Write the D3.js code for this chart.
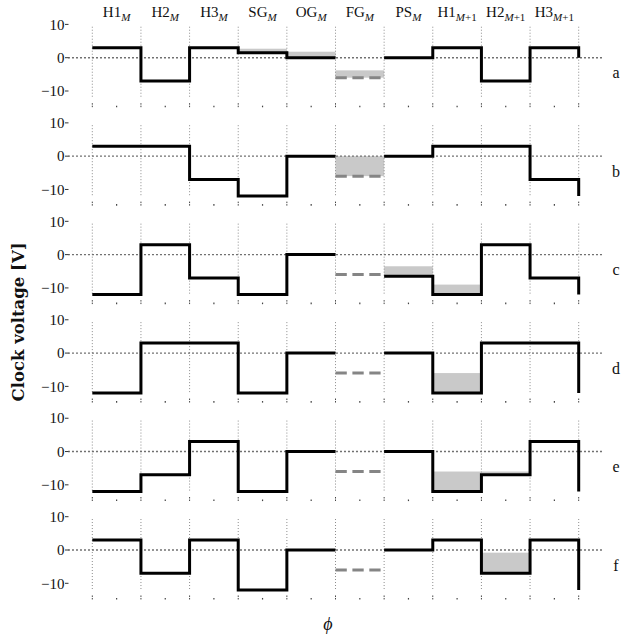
<!DOCTYPE html>
<html>
<head>
<meta charset="utf-8">
<script src="https://cdn.jsdelivr.net/npm/d3@7"></script>
<style>
  body { margin: 0; background: #fff; }
  text { font-family: "Liberation Serif", "DejaVu Serif", serif; fill: #111; }
</style>
</head>
<body>
<svg id="chart" width="624" height="637"></svg>
<script>
// Clock phases within one pixel transfer (gate names and subscripts)
const phaseNames = ["H1", "H2", "H3", "SG", "OG", "FG", "PS", "H1", "H2", "H3"];
const phaseSubs  = ["M", "M", "M", "M", "M", "M", "M", "M+1", "M+1", "M+1"];

// Panel labels
const panelLabels = ["a", "b", "c", "d", "e", "f"];

// Clock voltage of each phase per panel (null = floating gate, drawn dashed)
const voltsA = [3, -7, 3, 1.5, 0, null, 0, 3, -7, 3];
const voltsB = [3, 3, -7, -12, 0, null, 0, 3, 3, -7];
const voltsC = [-12, 3, -7, -12, 0, null, -6.5, -12, 3, -7];
const voltsD = [-12, 3, 3, -12, 0, null, 0, -12, 3, 3];
const voltsE = [-12, -7, 3, -12, 0, null, 0, -12, -7, 3];
const voltsF = [3, -7, 3, -12, 0, null, 0, 3, -7, 3];

// Level the trace drops to at the right edge of each panel
const endVolts = [0, -12, -12, -12, -12, -12];

// Floating gate reference level
const fgLevel = -6;

// Shaded charge packets: [phase index, lower V, upper V]
const chargeA = [[3, 1.5, 2.7], [4, 0, 1.8], [5, -6, -3.8]];
const chargeB = [[5, -6, 0]];
const chargeC = [[6, -6.5, -3.5], [7, -12, -9]];
const chargeD = [[7, -12, -6]];
const chargeE = [[7, -12, -6], [8, -7, -6]];
const chargeF = [[8, -7, -0.8]];

// Voltage axis ticks
const yTickValues = [10, 0, -10];
const yTickLabels = ["10", "0", "\u221210"];

const voltsAll = [voltsA, voltsB, voltsC, voltsD, voltsE, voltsF];
const chargeAll = [chargeA, chargeB, chargeC, chargeD, chargeE, chargeF];

const svg = d3.select("#chart");

// Shared horizontal scale: phase boundaries 0..10, axis spans -0.5..10.5
const x = d3.scaleLinear().domain([0, 10]).range([92.3, 578.7]);

const firstZero = 57.7, panelStep = 98.46;
const yTop = 9.3, yBottom = -12;

// Phase names along the top
const header = svg.append("g");
phaseNames.forEach((name, i) => {
  const t = header.append("text")
    .attr("x", x(i + 0.5))
    .attr("y", 17)
    .attr("text-anchor", "middle")
    .style("font-size", "15px");
  t.append("tspan").text(name);
  const sub = phaseSubs[i];
  const s = t.append("tspan").attr("dy", 4).style("font-size", "11px");
  s.append("tspan").style("font-style", "italic").text("M");
  if (sub.length > 1) s.append("tspan").text(sub.slice(1));
});

voltsAll.forEach((volts, p) => {
  const zero = firstZero + p * panelStep;
  const y = d3.scaleLinear().domain([0, 10]).range([zero, zero - 33.3]);
  const g = svg.append("g");

  // charge packets
  g.selectAll("rect.charge")
    .data(chargeAll[p])
    .join("rect")
    .attr("class", "charge")
    .attr("x", d => x(d[0]))
    .attr("width", d => x(d[0] + 1) - x(d[0]))
    .attr("y", d => y(d[2]))
    .attr("height", d => y(d[1]) - y(d[2]))
    .attr("fill", "#c9c9c9");

  // vertical phase boundaries
  g.selectAll("line.grid")
    .data(d3.range(0, 11))
    .join("line")
    .attr("class", "grid")
    .attr("x1", d => x(d)).attr("x2", d => x(d))
    .attr("y1", y(yTop)).attr("y2", y(yBottom))
    .attr("stroke", "#8c8c8c")
    .attr("stroke-width", 1)
    .attr("stroke-dasharray", "1,2");

  // zero reference
  g.append("line")
    .attr("x1", x(-0.5)).attr("x2", x(10.5))
    .attr("y1", y(0)).attr("y2", y(0))
    .attr("stroke", "#707070")
    .attr("stroke-width", 1.4)
    .attr("stroke-dasharray", "2,2");

  // y ticks and labels
  yTickValues.forEach((v, k) => {
    g.append("line")
      .attr("x1", 65).attr("x2", 68.5)
      .attr("y1", y(v)).attr("y2", y(v))
      .attr("stroke", "#333").attr("stroke-width", 1);
    g.append("text")
      .attr("x", 64.5).attr("y", y(v)).attr("dy", "0.35em")
      .attr("text-anchor", "end")
      .style("font-size", "15px")
      .text(yTickLabels[k]);
  });

  // x ticks: major at boundaries, minor at phase centres
  const base = y(yBottom);
  g.selectAll("line.major")
    .data(d3.range(0, 11))
    .join("line")
    .attr("class", "major")
    .attr("x1", d => x(d)).attr("x2", d => x(d))
    .attr("y1", base + 5.5).attr("y2", base + 10.5)
    .attr("stroke", "#444").attr("stroke-width", 1)
    .attr("stroke-dasharray", "1.5,1");
  g.selectAll("line.minor")
    .data(d3.range(0, 10).map(d => d + 0.5))
    .join("line")
    .attr("class", "minor")
    .attr("x1", d => x(d)).attr("x2", d => x(d))
    .attr("y1", base + 8).attr("y2", base + 9.6)
    .attr("stroke", "#444").attr("stroke-width", 1.2);

  // floating gate level
  g.append("line")
    .attr("x1", x(5)).attr("x2", x(6))
    .attr("y1", y(fgLevel)).attr("y2", y(fgLevel))
    .attr("stroke", "#858585")
    .attr("stroke-width", 3)
    .attr("stroke-dasharray", "11.3,5.6");

  // clock traces
  const line = d3.line()
    .x(d => x(d[0]))
    .y(d => y(d[1]))
    .curve(d3.curveStepAfter);

  const left = volts.slice(0, 5).map((v, i) => [i, v]);
  left.push([5, volts[4]]);
  const right = volts.slice(6).map((v, i) => [i + 6, v]);
  right.push([10, endVolts[p]]);

  [left, right].forEach(pts => {
    g.append("path")
      .attr("d", line(pts))
      .attr("fill", "none")
      .attr("stroke", "#000")
      .attr("stroke-width", 3)
      .attr("stroke-linejoin", "miter");
  });

  // panel letter
  g.append("text")
    .attr("x", 616).attr("y", zero + 15).attr("dy", "0.35em")
    .attr("text-anchor", "middle")
    .style("font-size", "16px")
    .text(panelLabels[p]);
});

// axis titles
svg.append("text")
  .attr("transform", "translate(18,322) rotate(-90)")
  .attr("text-anchor", "middle")
  .attr("dy", "0.35em")
  .style("font-family", "'DejaVu Serif', serif")
  .style("font-size", "16.5px")
  .style("font-weight", "bold")
  .text("Clock voltage [V]");

svg.append("text")
  .attr("x", 328).attr("y", 630)
  .attr("text-anchor", "middle")
  .style("font-size", "18px")
  .style("font-style", "italic")
  .text("\u03d5");
</script>
</body>
</html>
